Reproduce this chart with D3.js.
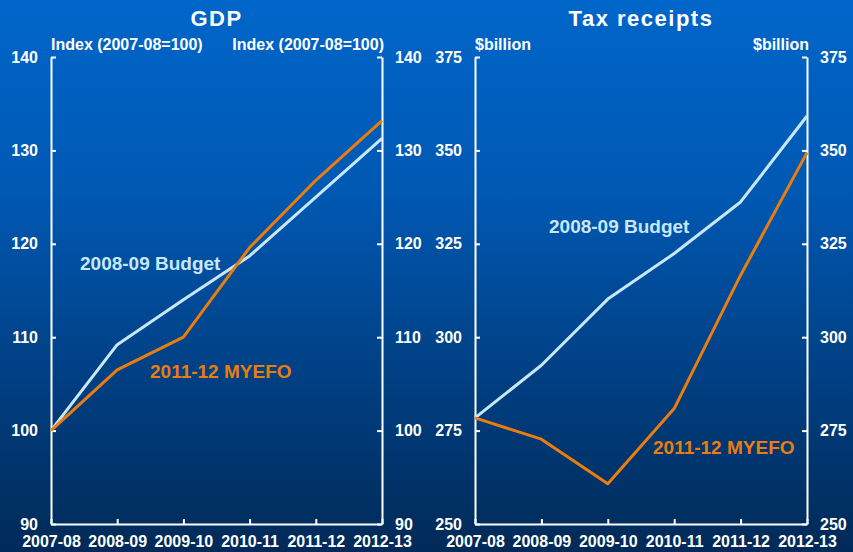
<!DOCTYPE html>
<html><head><meta charset="utf-8">
<script src="https://cdn.jsdelivr.net/npm/d3@7"></script>
<style>html,body{margin:0;padding:0;background:#00357a;}svg{display:block;}</style>
</head><body>
<svg id="c" width="853" height="552"></svg>
<script>
const years = ["2007-08","2008-09","2009-10","2010-11","2011-12","2012-13"];
const gdpBudget = [100, 109.2, 114.0, 118.7, 125.0, 131.3];
const gdpMyefo  = [100, 106.5, 110.0, 119.6, 126.8, 133.2];
const taxBudget = [278.4, 292.5, 310.2, 322.4, 336.2, 359.2];
const taxMyefo  = [278.4, 272.7, 260.8, 280.9, 316.6, 349.4];
const gdpTicks = [90,100,110,120,130,140];
const taxTicks = [250,275,300,325,350,375];

(function(){
const svg = d3.select("#c");
const defs = svg.append("defs");
const g = defs.append("linearGradient").attr("id","bg").attr("x1",0).attr("y1",0).attr("x2",0).attr("y2",1);
g.append("stop").attr("offset","0%").attr("stop-color","#0066ca");
g.append("stop").attr("offset","35%").attr("stop-color","#0058b2");
g.append("stop").attr("offset","70%").attr("stop-color","#003e80");
g.append("stop").attr("offset","100%").attr("stop-color","#002a58");
svg.append("rect").attr("width",853).attr("height",552).attr("fill","url(#bg)");

const font = "'Liberation Sans', Arial, sans-serif";
const yTop = 57, yBottom = 524;

function panel(x0, x1, dom, ticks, title, unitL, unitR, sA, sB, labA, labB) {
  const x = d3.scalePoint().domain(years).range([x0, x1]);
  const y = d3.scaleLinear().domain(dom).range([yBottom, yTop]);
  const gp = svg.append("g");
  const styleAxis = (sel) => {
    sel.select(".domain").attr("stroke","#fff").attr("stroke-width",2);
    sel.selectAll(".tick line").attr("stroke","#fff").attr("stroke-width",2);
    sel.selectAll("text").attr("fill","#fff").attr("font-family",font).attr("font-weight","bold").attr("font-size","16px");
  };
  const ax = gp.append("g").attr("transform",`translate(0,${yBottom})`)
    .call(d3.axisBottom(x).tickSize(-5).tickSizeOuter(0).tickPadding(12));
  styleAxis(ax);
  const al = gp.append("g").attr("transform",`translate(${x0},0)`)
    .call(d3.axisLeft(y).tickValues(ticks).tickSize(-5).tickSizeOuter(0).tickPadding(13));
  styleAxis(al);
  const ar = gp.append("g").attr("transform",`translate(${x1},0)`)
    .call(d3.axisRight(y).tickValues(ticks).tickSize(-5).tickSizeOuter(0).tickPadding(13));
  styleAxis(ar);

  const line = d3.line().x((d,i)=>x(years[i])).y(d=>y(d));
  gp.append("path").datum(sA).attr("d",line).attr("fill","none").attr("stroke","#c8e8fa").attr("stroke-width",3).attr("stroke-linejoin","round");
  gp.append("path").datum(sB).attr("d",line).attr("fill","none").attr("stroke","#ea7d0e").attr("stroke-width",3).attr("stroke-linejoin","round");

  gp.append("text").attr("x",(x0+x1)/2).attr("y",26).attr("text-anchor","middle").attr("letter-spacing","1.5px")
    .attr("fill","#fff").attr("font-family",font).attr("font-weight","bold").attr("font-size","22px").text(title);
  gp.append("text").attr("x",x0).attr("y",50).attr("fill","#fff").attr("font-family",font).attr("font-weight","bold").attr("font-size","16px").text(unitL);
  gp.append("text").attr("x",x1+2).attr("y",50).attr("text-anchor","end").attr("fill","#fff").attr("font-family",font).attr("font-weight","bold").attr("font-size","16px").text(unitR);
  gp.append("text").attr("x",labA[0]).attr("y",labA[1]).attr("fill","#c8e8fa").attr("font-family",font).attr("font-weight","bold").attr("font-size","19px").text("2008-09 Budget");
  gp.append("text").attr("x",labB[0]).attr("y",labB[1]).attr("fill","#ea7d0e").attr("font-family",font).attr("font-weight","bold").attr("font-size","19px").text("2011-12 MYEFO");
}

panel(51, 382, [90,140], gdpTicks, "GDP", "Index (2007-08=100)", "Index (2007-08=100)", gdpBudget, gdpMyefo, [80,270], [150,378]);
panel(475, 807, [250,375], taxTicks, "Tax receipts", "$billion", "$billion", taxBudget, taxMyefo, [549,233], [653,454]);
})();
</script>
</body></html>
